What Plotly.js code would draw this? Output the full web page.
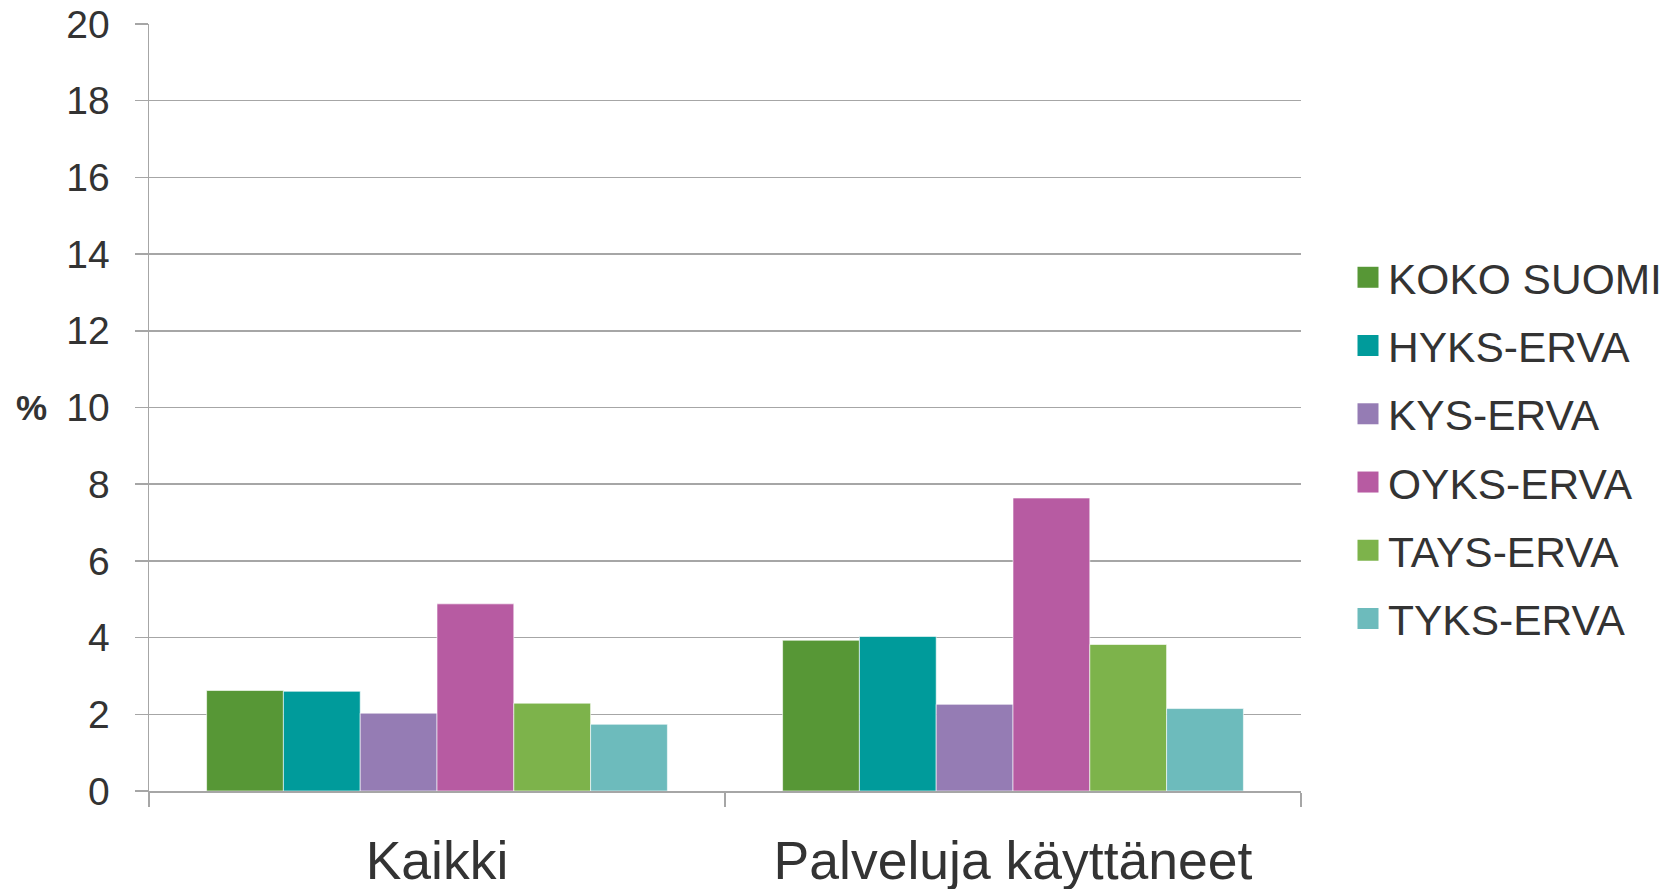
<!DOCTYPE html>
<html>
<head>
<meta charset="utf-8">
<script src="https://cdn.plot.ly/plotly-3.0.1.min.js"></script>
<style>html,body{margin:0;padding:0;background:#fff;}#chart{width:1675px;height:889px;}</style>
</head>
<body>
<div id="chart"></div>
<script>
const categories = ["Kaikki", "Palveluja käyttäneet"];
const seriesNames = ["KOKO SUOMI", "HYKS-ERVA", "KYS-ERVA", "OYKS-ERVA", "TAYS-ERVA", "TYKS-ERVA"];
const kokoSuomi = [2.62, 3.93];
const hyksErva = [2.60, 4.03];
const kysErva = [2.03, 2.26];
const oyksErva = [4.88, 7.64];
const taysErva = [2.29, 3.82];
const tyksErva = [1.74, 2.15];
const seriesValues = [kokoSuomi, hyksErva, kysErva, oyksErva, taysErva, tyksErva];
const colors = ["#579736", "#009b9b", "#957cb4", "#b75ba2", "#7db34b", "#6dbbbc"];
const yTicks = [0, 2, 4, 6, 8, 10, 12, 14, 16, 18, 20];

const traces = seriesNames.map((name, i) => ({
  type: "bar",
  name: name,
  x: categories,
  y: seriesValues[i],
  legendgroup: "g" + i,
  marker: { color: colors[i], line: { color: "rgba(255,255,255,0.6)", width: 1 } },
  hoverinfo: "name+y"
}));

const layout = {
  width: 1675,
  height: 889,
  paper_bgcolor: "#ffffff",
  plot_bgcolor: "#ffffff",
  font: { family: "Liberation Sans, Arial, sans-serif", color: "#333333" },
  margin: { l: 148.5, r: 374, t: 23.5, b: 97.5, pad: 0, autoexpand: false },
  barmode: "group",
  bargap: 0.2,
  bargroupgap: 0,
  showlegend: true,
  legend: {
    x: 1.0408, xanchor: "left",
    y: 0.447, yanchor: "middle",
    font: { size: 42.5, color: "#333333" },
    tracegroupgap: 10,
    bgcolor: "rgba(0,0,0,0)"
  },
  xaxis: {
    type: "category",
    tickson: "boundaries",
    ticks: "outside",
    ticklen: 14,
    tickwidth: 1.5,
    tickcolor: "#a6a6a6",
    showline: true,
    linecolor: "#a6a6a6",
    linewidth: 1.5,
    showgrid: false,
    tickfont: { size: 53.5, color: "#333333" },
    ticklabelstandoff: 22
  },
  yaxis: {
    range: [0, 20],
    tickvals: yTicks,
    ticktext: yTicks.map(String),
    ticks: "outside",
    ticklen: 13,
    tickwidth: 1.5,
    tickcolor: "#a6a6a6",
    showline: true,
    linecolor: "#a6a6a6",
    linewidth: 1.5,
    showgrid: true,
    gridcolor: "#a6a6a6",
    gridwidth: 1.5,
    zeroline: false,
    tickfont: { size: 39, color: "#333333" },
    ticklabelstandoff: 17
  },
  annotations: [{
    text: "<b>%</b>",
    xref: "paper", yref: "y",
    x: -0.102, y: 10,
    xanchor: "center", yanchor: "middle",
    showarrow: false,
    font: { size: 35, color: "#333333" }
  }]
};

Plotly.newPlot("chart", traces, layout, { displayModeBar: false, staticPlot: true }).then(() => {
  document.querySelectorAll("#chart .legend .legendpoints path").forEach(p => {
    p.setAttribute("d", "M10.5,10.5H-10.5V-10.5H10.5Z");
    p.style.strokeWidth = "0";
  });
});
</script>
</body>
</html>
